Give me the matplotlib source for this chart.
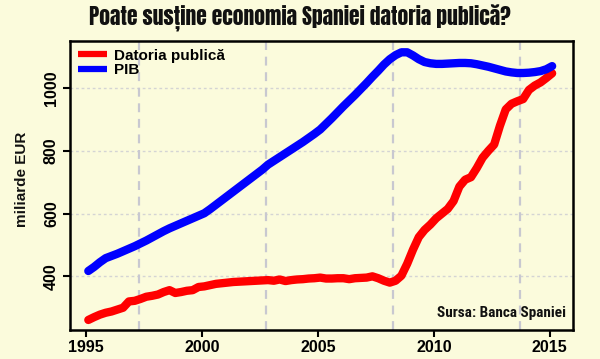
import matplotlib
matplotlib.use("Agg")
import matplotlib.pyplot as plt
import numpy as np

# Quarterly data, 1995Q1 .. 2015Q1 (plotted at quarter positions)
start_year = 1995.1
step = 0.25

datoria = [261, 270, 278, 284, 288, 294, 300, 320, 322, 328, 335, 338,
           342, 350, 356, 347, 350, 354, 356, 366, 368, 372, 376, 378,
           380, 382, 383, 384, 385, 386, 387, 388, 386, 390, 385, 388,
           390, 391, 393, 394, 396, 393, 393, 394, 394, 391, 394, 395,
           396, 400, 394, 386, 380, 386, 402, 440, 485, 525, 548, 565,
           585, 600, 615, 640, 686, 708, 716, 745, 778, 800, 820, 880,
           932, 950, 958, 965, 994, 1008, 1018, 1032, 1047]

pib = [417, 430, 445, 458, 465, 472, 480, 488, 496, 505, 514, 524,
       534, 544, 553, 561, 569, 577, 585, 593, 601, 614, 628, 642,
       656, 670, 684, 698, 712, 726, 740, 756, 768, 780, 792, 804,
       816, 828, 841, 854, 868, 886, 904, 923, 942, 960, 978, 997,
       1016, 1036, 1055, 1075, 1092, 1105, 1114, 1114, 1104, 1092, 1083, 1079,
       1077, 1077, 1078, 1079, 1080, 1080, 1079, 1076, 1072, 1068, 1063, 1058,
       1053, 1050, 1048, 1048, 1049, 1051, 1054, 1060, 1070]

xticks = [1995, 2000, 2005, 2010, 2015]
yticks = [400, 600, 800, 1000]
vgrid = [1997.3, 2002.75, 2008.25, 2013.7]

title = "Poate susține economia Spaniei datoria publică?"
ylabel = "miliarde EUR"
source = "Sursa: Banca Spaniei"
labels = ["Datoria publică", "PIB"]

bg = "#fbfbdc"
years = start_year + step * np.arange(len(datoria))

fig = plt.figure(figsize=(6.0, 3.59), dpi=100, facecolor=bg)
ax = fig.add_axes([70/600, 1-330/359, (573-70)/600, (330-41)/359])
ax.set_facecolor(bg)

for yv in yticks:
    ax.axhline(yv, color="#d4d4d4", lw=1.0, ls=(0, (2, 2)), zorder=1)
for xv in vgrid:
    ax.axvline(xv, color="#c8c8d0", lw=1.6, ls=(0, (4, 3)), zorder=1)

ax.plot(years, datoria, color="#ff0000", lw=6, solid_capstyle="round",
        solid_joinstyle="round", label=labels[0], zorder=3)
ax.plot(years, pib, color="#0000ff", lw=6, solid_capstyle="round",
        solid_joinstyle="round", label=labels[1], zorder=3)

ax.set_xlim(1994.31, 2016.0)
ax.set_ylim(229, 1150)

ax.set_xticks(xticks)
ax.set_yticks(yticks)
tickfont = dict(family="Liberation Sans", weight="bold", size=11.5)
ax.set_xticklabels([str(t) for t in xticks], **tickfont)
ax.set_yticklabels([str(t) for t in yticks], rotation=90, va="center", **tickfont)
ax.tick_params(axis="both", direction="out", length=5, width=1.5, colors="black", pad=3)
ax.tick_params(axis="x", pad=2)
for s in ax.spines.values():
    s.set_linewidth(1.8)
    s.set_color("black")

fig.text(22/600, 1-179/359, ylabel, rotation=90, ha="center", va="center",
         family="Liberation Sans", weight="bold", size=11, color="#111111")

fig.text(300/600, 1-18/359, title, ha="center", va="center",
         family="Anton", size=15.5, color="#111111")

ax.text(0.985, 0.035, source, transform=ax.transAxes, ha="right", va="bottom",
        family="Roboto Condensed", weight="bold", size=11, color="#111111")

leg = ax.legend(loc="upper left", frameon=False,
                prop=dict(family="Liberation Sans", weight="bold", size=11),
                handlelength=1.9, handletextpad=0.5, labelspacing=0.05,
                borderaxespad=0.3, borderpad=0.2)
for l in leg.get_lines():
    l.set_linewidth(4.5)
    l.set_solid_capstyle("butt")

fig.savefig("out.png", dpi=100, facecolor=bg)
